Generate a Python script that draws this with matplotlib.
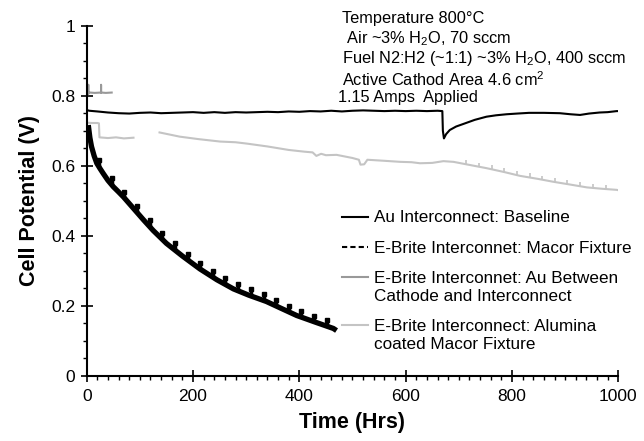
import numpy as np
import matplotlib
matplotlib.use("Agg")
import matplotlib.pyplot as plt
from matplotlib.lines import Line2D
from matplotlib.legend_handler import HandlerLine2D
from matplotlib.ticker import MultipleLocator

plt.rcParams['font.family'] = ['Liberation Sans', 'DejaVu Sans']
plt.rcParams['mathtext.fontset'] = 'custom'
plt.rcParams['mathtext.rm'] = 'Liberation Sans'
plt.rcParams['mathtext.it'] = 'Liberation Sans:italic'

# Au interconnect baseline
base_t = [0, 5, 20, 40, 60, 80, 100, 120, 140, 160, 180, 200, 220, 240, 260, 280,
          300, 320, 340, 360, 380, 400, 420, 440, 460, 480, 500, 520, 540, 560, 580,
          600, 620, 640, 660, 669, 670, 672, 676, 683, 695, 708, 730, 752, 770, 790,
          810, 832, 860, 890, 910, 928, 945, 965, 980, 997, 1000]
base_v = [0.759, 0.757, 0.755, 0.752, 0.750, 0.749, 0.751, 0.752, 0.750, 0.751, 0.752,
          0.753, 0.751, 0.753, 0.751, 0.753, 0.752, 0.753, 0.754, 0.753, 0.755, 0.754,
          0.756, 0.755, 0.757, 0.755, 0.757, 0.758, 0.757, 0.756, 0.757, 0.756, 0.757,
          0.756, 0.757, 0.756, 0.700, 0.678, 0.690, 0.702, 0.712, 0.719, 0.731, 0.740,
          0.744, 0.747, 0.749, 0.751, 0.751, 0.750, 0.747, 0.745, 0.749, 0.752, 0.753,
          0.756, 0.756]

# E-Brite, Macor fixture (decaying)
macor_t = [3, 6, 9, 14, 19, 25, 31, 40, 50, 60, 69, 88, 107, 125, 150, 180, 213,
           245, 276, 305, 338, 365, 395, 430, 464, 470]
macor_v = [0.716, 0.680, 0.655, 0.628, 0.607, 0.592, 0.578, 0.558, 0.540, 0.525,
           0.511, 0.478, 0.445, 0.415, 0.378, 0.342, 0.305, 0.274, 0.248, 0.230,
           0.212, 0.193, 0.172, 0.153, 0.135, 0.129]
macor_spike_t = [23, 47, 71, 95, 119, 142, 166, 190, 214, 238, 261, 285, 309, 333,
                 357, 380, 404, 428, 452]
macor_spike_lo = [0.596, 0.545, 0.507, 0.466, 0.425, 0.390, 0.360, 0.330, 0.304, 0.281,
                  0.261, 0.243, 0.228, 0.214, 0.198, 0.181, 0.165, 0.153, 0.141]
macor_spike_hi = [0.615, 0.564, 0.526, 0.485, 0.444, 0.409, 0.379, 0.349, 0.323, 0.300,
                  0.280, 0.262, 0.247, 0.233, 0.217, 0.200, 0.184, 0.172, 0.160]

# E-Brite, Au between cathode and interconnect
aub_t = [0, 3, 3, 3, 6, 15, 27, 27, 27, 36, 47]
aub_v = [0.802, 0.805, 0.831, 0.807, 0.809, 0.808, 0.809, 0.831, 0.809, 0.808, 0.809]

# E-Brite, alumina coated Macor fixture
alu1_t = [0, 10, 20, 23, 24, 40, 55, 70, 88]
alu1_v = [0.723, 0.722, 0.722, 0.721, 0.681, 0.679, 0.681, 0.678, 0.680]
alu2_t = [137, 175, 210, 251, 280, 302, 340, 380, 410, 425, 432, 441, 450, 470,
          500, 512, 515, 522, 528, 560, 590, 611, 627, 650, 671, 690, 714, 752, 785,
          815, 850, 878, 910, 941, 970, 997, 1000]
alu2_v = [0.695, 0.683, 0.676, 0.669, 0.667, 0.663, 0.655, 0.645, 0.640, 0.638,
          0.628, 0.634, 0.630, 0.631, 0.622, 0.617, 0.603, 0.604, 0.617, 0.614,
          0.611, 0.610, 0.607, 0.608, 0.613, 0.611, 0.604, 0.593, 0.582, 0.571,
          0.562, 0.554, 0.546, 0.538, 0.534, 0.531, 0.530]
alu_spike_t = [714, 738, 762, 785, 809, 833, 857, 881, 904, 928, 952, 976]
alu_spike_lo = [0.604, 0.597, 0.590, 0.582, 0.573, 0.566, 0.560, 0.553, 0.548,
                0.541, 0.536, 0.533]
alu_spike_hi = [0.616, 0.609, 0.602, 0.594, 0.585, 0.578, 0.572, 0.565, 0.560,
                0.553, 0.548, 0.545]

labels = ["Au Interconnect: Baseline",
          "E-Brite Interconnet: Macor Fixture",
          "E-Brite Interconnet: Au Between\nCathode and Interconnect",
          "E-Brite Interconnect: Alumina\ncoated Macor Fixture"]

notes = ["Temperature 800\u00b0C",
         " Air ~3% H$_2$O, 70 sccm",
         "Fuel N2:H2 (~1:1) ~3% H$_2$O, 400 sccm",
         "Active Cathod Area 4.6 cm$^2$",
         "1.15 Amps  Applied"]

GRAY = "#999999"
LIGHT = "#c4c4c4"


class TopLine(HandlerLine2D):
    # put the handle next to the first line of a two line label
    def __init__(self, shift, **kw):
        super().__init__(**kw)
        self.shift = shift

    def create_artists(self, legend, orig_handle, xdescent, ydescent, width,
                       height, fontsize, trans):
        return super().create_artists(legend, orig_handle, xdescent,
                                      ydescent - 2 * self.shift, width, height,
                                      fontsize, trans)


fig = plt.figure(figsize=(6.44, 4.41), dpi=100)
ax = fig.add_axes([86.7 / 644, 1 - 375.7 / 441, 531.6 / 644, 350 / 441])

ax.plot(alu1_t, alu1_v, color=LIGHT, lw=1.5)
ax.plot(alu2_t, alu2_v, color=LIGHT, lw=1.5)
ax.vlines(alu_spike_t, alu_spike_lo, alu_spike_hi, color=LIGHT, lw=1.2)
ax.plot(aub_t, aub_v, color=GRAY, lw=1.5)
ax.plot(base_t, base_v, color="black", lw=1.5)
ax.plot(macor_t, macor_v, color="black", lw=3.8, solid_capstyle="butt")
ax.vlines(macor_spike_t, macor_spike_lo, macor_spike_hi, color="black", lw=2.5)
ax.plot(macor_spike_t, macor_spike_hi, ls="none", marker="s", ms=3.5, color="black")

ax.set_xlim(0, 1000)
ax.set_ylim(0, 1)
ax.xaxis.set_major_locator(MultipleLocator(200))
ax.xaxis.set_minor_locator(MultipleLocator(20))
ax.yaxis.set_minor_locator(MultipleLocator(0.05))
ax.set_yticks([0, 0.2, 0.4, 0.6, 0.8, 1.0])
ax.set_yticklabels(["0", "0.2", "0.4", "0.6", "0.8", "1"])
ax.tick_params(which="major", direction="inout", length=8.5, width=1.2, labelsize=12.5)
ax.tick_params(which="minor", direction="out", length=3.2, width=1)
ax.tick_params(axis="x", pad=5)
ax.tick_params(axis="y", pad=4)
for s in ["top", "right"]:
    ax.spines[s].set_visible(False)
for s in ["left", "bottom"]:
    ax.spines[s].set_linewidth(1.5)
    ax.spines[s].set_clip_on(False)

ax.set_xlabel("Time (Hrs)", fontsize=15.5, fontweight="bold", labelpad=6)
ax.set_ylabel("Cell Potential (V)", fontsize=15.5, fontweight="bold", labelpad=8)

handles = [Line2D([], [], color="black", lw=1.5),
           Line2D([], [], color="black", lw=1.5, ls=(0, (2.5, 1.5))),
           Line2D([], [], color=GRAY, lw=1.5),
           Line2D([], [], color=LIGHT, lw=1.5)]
hmap = {handles[2]: TopLine(7.4), handles[3]: TopLine(7.4)}
leg = ax.legend(handles, labels, handler_map=hmap, loc="upper left",
                bbox_to_anchor=(0.48, 0.472), frameon=False, fontsize=12.3,
                handlelength=1.55, handletextpad=0.33, labelspacing=0.88,
                borderpad=0, borderaxespad=0)
for t in leg.get_texts():
    t.set_linespacing(1.27)

ys = [18.5, 39, 59, 79.5, 97.5]
xs = [341.7, 341.7, 341.7, 341.7, 338.3]
for x, y, t in zip(xs, ys, notes):
    fig.text(x / 644, 1 - y / 441, t, fontsize=11.8, va="center", ha="left")

fig.savefig("out.png", dpi=100)
